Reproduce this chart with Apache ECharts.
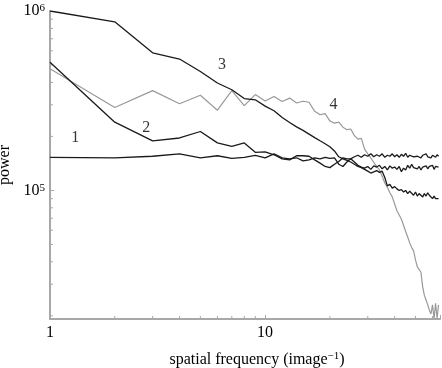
<!DOCTYPE html>
<html>
<head>
<meta charset="utf-8">
<script src="https://cdn.jsdelivr.net/npm/echarts@6/dist/echarts.min.js"></script>
<style>html,body{margin:0;padding:0;background:#fff}#c{width:442px;height:368px}</style>
</head>
<body>
<div id="c"></div>
<script>
// spatial frequency (image^-1)
const freq = [1,2,3,4,5,6,7,8,9,10,11,12,13,14,15,16,17,18,19,20,21,22,23,24,25,26,27,28,29,30,31,32,
  33,34,35,36,37,38,39,40,41,42,43,44,45,46,47,48,49,50,51,52,53,54,55,56,57,58,59,60,61,62,63,64];

// curve 1 (flat)
const power1 = [1.53e5,1.52e5,1.55e5,1.60e5,1.52e5,1.56e5,1.51e5,1.53e5,1.57e5,1.52e5,1.60e5,1.52e5,1.50e5,1.52e5,1.46e5,1.48e5,
  1.52e5,1.50e5,1.53e5,1.51e5,1.52e5,1.40e5,1.36e5,1.44e5,1.50e5,1.54e5,1.57e5,1.53e5,1.58e5,1.55e5,1.60e5,1.54e5,
  1.58e5,1.55e5,1.60e5,1.53e5,1.57e5,1.55e5,1.60e5,1.54e5,1.58e5,1.53e5,1.59e5,1.55e5,1.61e5,1.53e5,1.57e5,1.60e5,
  1.54e5,1.58e5,1.55e5,1.59e5,1.52e5,1.57e5,1.55e5,1.60e5,1.54e5,1.58e5,1.52e5,1.57e5,1.60e5,1.53e5,1.58e5,1.55e5];

// curve 2
const power2 = [5.18e5,2.40e5,1.89e5,1.96e5,2.13e5,1.84e5,1.76e5,1.84e5,1.63e5,1.64e5,1.58e5,1.50e5,1.48e5,1.56e5,1.56e5,1.55e5,
  1.48e5,1.42e5,1.36e5,1.34e5,1.40e5,1.45e5,1.52e5,1.50e5,1.50e5,1.44e5,1.38e5,1.35e5,1.33e5,1.36e5,1.31e5,1.37e5,
  1.35e5,1.38e5,1.32e5,1.36e5,1.30e5,1.37e5,1.33e5,1.35e5,1.31e5,1.36e5,1.27e5,1.33e5,1.30e5,1.38e5,1.33e5,1.40e5,
  1.34e5,1.37e5,1.32e5,1.36e5,1.30e5,1.35e5,1.33e5,1.37e5,1.32e5,1.36e5,1.34e5,1.38e5,1.31e5,1.36e5,1.33e5,1.35e5];

// curve 3
const power3 = [1.00e6,8.70e5,5.85e5,5.40e5,4.60e5,3.97e5,3.64e5,3.25e5,3.20e5,2.95e5,2.78e5,2.55e5,2.39e5,2.26e5,2.16e5,2.06e5,
  1.97e5,1.89e5,1.82e5,1.75e5,1.66e5,1.54e5,1.50e5,1.47e5,1.44e5,1.40e5,1.36e5,1.34e5,1.31e5,1.28e5,1.25e5,1.27e5,
  1.29e5,1.26e5,1.28e5,1.18e5,1.06e5,1.08e5,1.03e5,1.05e5,1.02e5,1.00e5,1.01e5,9.8e4,1.00e5,9.6e4,9.9e4,9.7e4,
  9.4e4,9.8e4,9.3e4,9.6e4,9.5e4,9.2e4,9.6e4,9.3e4,9.7e4,9.4e4,9.6e4,9.0e4,9.3e4,9.0e4,8.8e4,9.0e4];

// curve 4 (grey)
const power4 = [4.76e5,2.90e5,3.60e5,3.04e5,3.39e5,2.80e5,3.60e5,2.97e5,3.42e5,3.15e5,3.34e5,3.13e5,3.27e5,3.07e5,3.14e5,3.10e5,
  2.76e5,2.64e5,2.68e5,2.44e5,2.37e5,2.40e5,2.25e5,2.18e5,2.20e5,2.02e5,1.93e5,1.95e5,1.70e5,1.60e5,1.52e5,1.43e5,
  1.36e5,1.30e5,1.20e5,1.10e5,1.04e5,9.7e4,9.2e4,8.4e4,7.7e4,7.3e4,6.9e4,6.4e4,5.9e4,5.5e4,5.1e4,4.8e4,
  4.6e4,4.1e4,3.75e4,3.72e4,3.5e4,2.9e4,2.6e4,2.45e4,2.3e4,2.15e4,2.05e4,2.3e4,1.93e4,2.35e4,1.94e4,2.3e4];

const curveNames = ['1','2','3','4'];
const xTickLabels = [1, 10];
const yTickLabels = [1e5, 1e6];
const xMinorTicks = [2,3,4,5,6,7,8,9,20,30,40,50,60];
const yMinorTicks = [2e4,3e4,4e4,5e4,6e4,7e4,8e4,9e4,2e5,3e5,4e5,5e5,6e5,7e5,8e5,9e5];

const X_MIN = 1, X_MAX = 65, Y_MIN = 1.92e4, Y_MAX = 1e6;
const SERIF = '"Liberation Serif", "DejaVu Serif", serif';
const AXIS_COLOR = '#a8a8a8';

function pairs(ys) { return freq.map((f, i) => [f, ys[i]]); }

const tickData = xMinorTicks.map(v => [v, Y_MIN, 0]).concat(yMinorTicks.map(v => [X_MIN, v, 1]));

const chart = echarts.init(document.getElementById('c'), null, {renderer: 'canvas'});
chart.setOption({
  animation: false,
  backgroundColor: '#fff',
  grid: {left: 50, top: 11, width: 390, height: 308, containLabel: false, outerBoundsMode: 'none'},
  xAxis: {
    type: 'log', logBase: 10, min: X_MIN, max: X_MAX,
    splitLine: {show: false},
    axisLine: {lineStyle: {color: AXIS_COLOR, width: 2}},
    axisTick: {show: true, inside: true, length: 4, lineStyle: {color: AXIS_COLOR, width: 1}},
    axisLabel: {
      margin: 6, color: '#000', fontFamily: SERIF, fontSize: 16,
      formatter: v => xTickLabels.some(t => Math.abs(t - v) / t < 1e-6) ? String(v) : ''
    },
    name: '{a|spatial frequency (image}{s|\u22121}{a|)}',
    nameLocation: 'middle', nameGap: 32,
    nameTextStyle: {
      padding: [0, 0, 0, 24],
      rich: {
        a: {fontFamily: SERIF, fontSize: 16, color: '#000', lineHeight: 18},
        s: {fontFamily: SERIF, fontSize: 11, color: '#000', lineHeight: 11, verticalAlign: 'top'}
      }
    }
  },
  yAxis: {
    type: 'log', logBase: 10, min: Y_MIN, max: Y_MAX,
    splitLine: {show: false},
    axisLine: {lineStyle: {color: AXIS_COLOR, width: 2}},
    axisTick: {show: true, inside: true, length: 4, lineStyle: {color: AXIS_COLOR, width: 1}},
    axisLabel: {
      margin: 5, color: '#000',
      formatter: v => {
        const t = yTickLabels.find(t => Math.abs(t - v) / t < 1e-6);
        return t ? '{b|10}{s|' + Math.round(Math.log10(t)) + '}' : '';
      },
      rich: {
        b: {fontFamily: SERIF, fontSize: 16, color: '#000', lineHeight: 16},
        s: {fontFamily: SERIF, fontSize: 11, color: '#000', lineHeight: 11, verticalAlign: 'top'}
      }
    },
    name: 'power', nameLocation: 'middle', nameGap: 29, nameRotate: 90,
    nameTextStyle: {fontFamily: SERIF, fontSize: 16, color: '#000', padding: [0, 0, 0, 0]}
  },
  series: [
    {name: curveNames[0], type: 'line', data: pairs(power1), symbol: 'none', lineStyle: {color: '#1a1a1a', width: 1.3}, z: 3},
    {name: curveNames[1], type: 'line', data: pairs(power2), symbol: 'none', lineStyle: {color: '#1a1a1a', width: 1.3}, z: 3},
    {name: curveNames[2], type: 'line', data: pairs(power3), symbol: 'none', lineStyle: {color: '#1a1a1a', width: 1.3}, z: 3},
    {name: curveNames[3], type: 'line', data: pairs(power4), symbol: 'none', lineStyle: {color: '#999999', width: 1.2}, z: 2},
    {
      type: 'scatter', symbolSize: 0, silent: true, z: 5,
      label: {show: true, position: 'inside', formatter: p => p.name, fontFamily: SERIF, fontSize: 16, color: '#000'},
      data: [
        {name: curveNames[0], value: [1.31, 1.97e5]},
        {name: curveNames[1], value: [2.80, 2.23e5]},
        {name: curveNames[2], value: [6.31, 5.02e5]},
        {name: curveNames[3], value: [20.8, 3.0e5]}
      ]
    },
    {
      type: 'custom', silent: true, clip: false, z: 1,
      data: tickData,
      encode: {x: 0, y: 1},
      renderItem: (params, api) => {
        const p = api.coord([api.value(0), api.value(1)]);
        const horiz = api.value(2) === 1;
        return {
          type: 'line',
          shape: horiz ? {x1: p[0], y1: p[1], x2: p[0] + 3, y2: p[1]} : {x1: p[0], y1: p[1], x2: p[0], y2: p[1] - 3},
          style: {stroke: AXIS_COLOR, lineWidth: 1}
        };
      }
    }
  ]
});
</script>
</body>
</html>
